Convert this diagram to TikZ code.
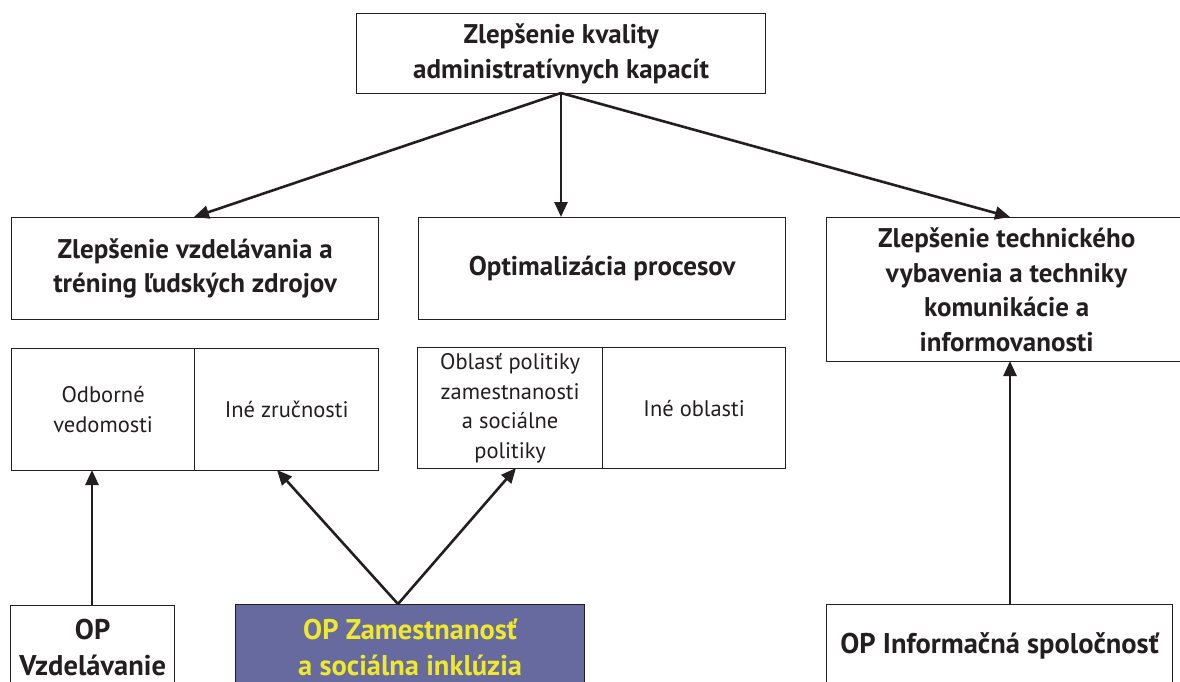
\documentclass[tikz,border=0pt]{standalone}
\usepackage{fontspec}
\setmainfont{PT Sans}
\usetikzlibrary{arrows.meta}
\definecolor{slate}{HTML}{666A9E}
\definecolor{yel}{HTML}{EEE82E}
\definecolor{ink}{HTML}{231F20}
\begin{document}
\begin{tikzpicture}[x=1pt,y=-1pt,
  box/.style={draw=ink,line width=1.3pt,inner sep=0pt,align=center,anchor=north west,text=ink,
    font=\fontsize{27}{34.5}\selectfont\bfseries},
  opbox/.style={box,font=\fontsize{28.5}{36}\selectfont\bfseries},
  cell/.style={draw=ink,line width=1.3pt,inner sep=0pt,align=center,anchor=north west,text=ink,
    font=\fontsize{22.5}{29.5}\selectfont},
  arr/.style={draw=ink,line width=2.6pt,-{Triangle[length=15pt,width=13pt]}}]
\clip (0,0) rectangle (1180,681);
\fill[white] (0,0) rectangle (1180,681);
% top
\node[box,minimum width=409pt,minimum height=80pt] (top) at (356,13)
  {Zlepšenie kvality\\administratívnych kapacít};
% second row
\node[box,minimum width=367pt,minimum height=102pt] (edu) at (11,217)
  {Zlepšenie vzdelávania a\\tréning ľudských zdrojov};
\node[box,minimum width=367pt,minimum height=102pt] (opt) at (418,217)
  {Optimalizácia procesov};
\node[box,minimum width=360pt,minimum height=144pt] (tech) at (826,217)
  {Zlepšenie technického\\vybavenia a techniky\\komunikácie a\\informovanosti};
% third row
\node[cell,minimum width=183pt,minimum height=122pt] (odb) at (11,348)
  {Odborné\\vedomosti};
\node[cell,minimum width=184pt,minimum height=122pt] (zru) at (194,348)
  {Iné zručnosti};
\node[cell,minimum width=185pt,minimum height=121pt] (obl) at (417,347)
  {Oblasť politiky\\zamestnanosti\\a sociálne\\politiky};
\node[cell,minimum width=183pt,minimum height=121pt] (ine) at (602,347)
  {Iné oblasti};
% bottom row
\node[opbox,minimum width=164pt,minimum height=84pt] (opv) at (10,605)
  {OP\\Vzdelávanie};
\node[opbox,fill=slate,text=yel,minimum width=349pt,minimum height=86pt] (opz) at (235,604)
  {OP Zamestnanosť\\a sociálna inklúzia};
\node[opbox,minimum width=346pt,minimum height=82pt] (opi) at (826,604)
  {OP Informačná spoločnosť};
% coordinates
\coordinate (hub) at (561,93);
\coordinate (zt) at (398,604);
% arrows
\draw[arr] (hub) -- (194,217);
\draw[arr] (hub) -- (opt.north -| hub);
\draw[arr] (hub) -- (1010,217);
\draw[arr] (opv.north -| 92,0) -- (92,470);
\draw[arr] (zt) -- (277,470);
\draw[arr] (zt) -- (516,468);
\draw[arr] (1010,604) -- (1010,361);
\end{tikzpicture}
\end{document}
